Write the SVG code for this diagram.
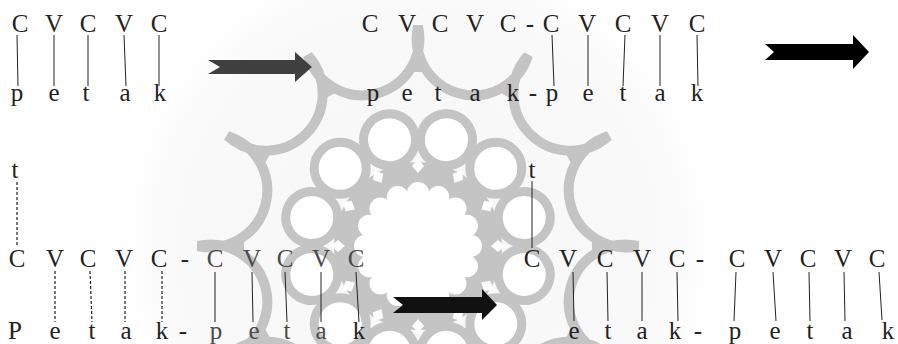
<svg xmlns="http://www.w3.org/2000/svg" xmlns:xlink="http://www.w3.org/1999/xlink" width="898" height="344" viewBox="0 0 898 344">
<style>
text{font-family:"Liberation Serif","Times New Roman",serif;font-size:25px;fill:#222;text-anchor:middle}
text.lt{fill:#4a4a4a}
.ln{stroke:#222;stroke-width:1;fill:none}
.ds{stroke:#222;stroke-width:1.2;fill:none;stroke-dasharray:3 2}
.wm{stroke:#c4c4c4;fill:none}
</style>
<defs>
<radialGradient id="halo" cx="418" cy="246" r="300" gradientUnits="userSpaceOnUse">
<stop offset="0" stop-color="#f7f7f7"/>
<stop offset="0.8" stop-color="#f9f9f9"/>
<stop offset="1" stop-color="#ffffff"/>
</radialGradient>
<polygon id="spike" points="418,26 412,72 424,72" fill="#c4c4c4"/>
<circle id="petal" cx="418" cy="193" r="11" fill="#fff"/>
<polygon id="dia" points="418,159 424,166 418,173 412,166" fill="#fff"/>
<circle id="ring" cx="418" cy="136" r="26" fill="#fff" stroke="#c4c4c4" stroke-width="9"/>
</defs>
<rect width="898" height="344" fill="#fff"/>
<g id="watermark">
<circle cx="418" cy="246" r="300" fill="url(#halo)"/>
<path class="wm" stroke-width="10" d="M638,246 A57,57 0 0 0 608.5,356 A57,57 0 0 0 528,436.5 A57,57 0 0 0 418,466 A57,57 0 0 0 308,436.5 A57,57 0 0 0 227.5,356 A57,57 0 0 0 198,246 A57,57 0 0 0 227.5,136 A57,57 0 0 0 308,55.5 A57,57 0 0 0 418,26 A57,57 0 0 0 528,55.5 A57,57 0 0 0 608.5,136 A57,57 0 0 0 638,246 Z"/>
<use xlink:href="#spike"/>
<use xlink:href="#spike" transform="rotate(30 418 246)"/>
<use xlink:href="#spike" transform="rotate(60 418 246)"/>
<use xlink:href="#spike" transform="rotate(90 418 246)"/>
<use xlink:href="#spike" transform="rotate(120 418 246)"/>
<use xlink:href="#spike" transform="rotate(150 418 246)"/>
<use xlink:href="#spike" transform="rotate(180 418 246)"/>
<use xlink:href="#spike" transform="rotate(210 418 246)"/>
<use xlink:href="#spike" transform="rotate(240 418 246)"/>
<use xlink:href="#spike" transform="rotate(270 418 246)"/>
<use xlink:href="#spike" transform="rotate(300 418 246)"/>
<use xlink:href="#spike" transform="rotate(330 418 246)"/>
<circle cx="418" cy="246" r="84" fill="#c4c4c4"/>
<use xlink:href="#ring" transform="rotate(-15 418 246)"/>
<use xlink:href="#ring" transform="rotate(15 418 246)"/>
<use xlink:href="#ring" transform="rotate(45 418 246)"/>
<use xlink:href="#ring" transform="rotate(75 418 246)"/>
<use xlink:href="#ring" transform="rotate(105 418 246)"/>
<use xlink:href="#ring" transform="rotate(135 418 246)"/>
<use xlink:href="#ring" transform="rotate(165 418 246)"/>
<use xlink:href="#ring" transform="rotate(195 418 246)"/>
<use xlink:href="#ring" transform="rotate(225 418 246)"/>
<use xlink:href="#ring" transform="rotate(255 418 246)"/>
<use xlink:href="#ring" transform="rotate(285 418 246)"/>
<use xlink:href="#ring" transform="rotate(315 418 246)"/>
<use xlink:href="#dia"/>
<use xlink:href="#dia" transform="rotate(30 418 246)"/>
<use xlink:href="#dia" transform="rotate(60 418 246)"/>
<use xlink:href="#dia" transform="rotate(90 418 246)"/>
<use xlink:href="#dia" transform="rotate(120 418 246)"/>
<use xlink:href="#dia" transform="rotate(150 418 246)"/>
<use xlink:href="#dia" transform="rotate(180 418 246)"/>
<use xlink:href="#dia" transform="rotate(210 418 246)"/>
<use xlink:href="#dia" transform="rotate(240 418 246)"/>
<use xlink:href="#dia" transform="rotate(270 418 246)"/>
<use xlink:href="#dia" transform="rotate(300 418 246)"/>
<use xlink:href="#dia" transform="rotate(330 418 246)"/>
<circle cx="418" cy="246" r="53" fill="#fff"/>
<use xlink:href="#petal"/>
<use xlink:href="#petal" transform="rotate(22.5 418 246)"/>
<use xlink:href="#petal" transform="rotate(45 418 246)"/>
<use xlink:href="#petal" transform="rotate(67.5 418 246)"/>
<use xlink:href="#petal" transform="rotate(90 418 246)"/>
<use xlink:href="#petal" transform="rotate(112.5 418 246)"/>
<use xlink:href="#petal" transform="rotate(135 418 246)"/>
<use xlink:href="#petal" transform="rotate(157.5 418 246)"/>
<use xlink:href="#petal" transform="rotate(180 418 246)"/>
<use xlink:href="#petal" transform="rotate(202.5 418 246)"/>
<use xlink:href="#petal" transform="rotate(225 418 246)"/>
<use xlink:href="#petal" transform="rotate(247.5 418 246)"/>
<use xlink:href="#petal" transform="rotate(270 418 246)"/>
<use xlink:href="#petal" transform="rotate(292.5 418 246)"/>
<use xlink:href="#petal" transform="rotate(315 418 246)"/>
<use xlink:href="#petal" transform="rotate(337.5 418 246)"/>
</g>
<g id="connectors">
<line class="ln" x1="17" y1="35" x2="18" y2="86"/>
<line class="ln" x1="54" y1="35" x2="54" y2="86"/>
<line class="ln" x1="88" y1="35" x2="88" y2="86"/>
<line class="ln" x1="124" y1="35" x2="126" y2="86"/>
<line class="ln" x1="159" y1="35" x2="159" y2="86"/>
<line class="ln" x1="552" y1="35" x2="554" y2="86"/>
<line class="ln" x1="588" y1="35" x2="588" y2="86"/>
<line class="ln" x1="625" y1="35" x2="623" y2="86"/>
<line class="ln" x1="660" y1="35" x2="660" y2="86"/>
<line class="ln" x1="697" y1="35" x2="698" y2="86"/>
<line class="ds" x1="17" y1="182" x2="17" y2="247"/>
<line class="ds" x1="55" y1="271" x2="55" y2="322"/>
<line class="ds" x1="90" y1="271" x2="92" y2="322"/>
<line class="ds" x1="125" y1="271" x2="125" y2="322"/>
<line class="ds" x1="162" y1="271" x2="162" y2="322"/>
<line class="ln" x1="215" y1="272" x2="215" y2="322"/>
<line class="ln" x1="252" y1="272" x2="253" y2="322"/>
<line class="ln" x1="285" y1="272" x2="287" y2="322"/>
<line class="ln" x1="321" y1="272" x2="321" y2="322"/>
<line class="ln" x1="356" y1="272" x2="359" y2="322"/>
<line class="ln" x1="532" y1="181" x2="532" y2="248"/>
<line class="ln" x1="573" y1="272" x2="574" y2="321"/>
<line class="ln" x1="607" y1="272" x2="608" y2="321"/>
<line class="ln" x1="642" y1="272" x2="642" y2="321"/>
<line class="ln" x1="677" y1="272" x2="678" y2="321"/>
<line class="ln" x1="736" y1="272" x2="734" y2="321"/>
<line class="ln" x1="773" y1="272" x2="776" y2="321"/>
<line class="ln" x1="809" y1="272" x2="810" y2="321"/>
<line class="ln" x1="844" y1="272" x2="845" y2="321"/>
<line class="ln" x1="879" y1="272" x2="882" y2="320"/>
</g>
<g id="arrow1"><polygon points="208,60 295,60 295,52 312,67 295,82 295,74 208,74 220,67" fill="#404040"/></g>
<g id="arrow2"><polygon points="765,44 853,44 853,35 869,52 853,69 853,60 765,60 774,52" fill="#000"/></g>
<g id="arrow3"><polygon points="393,297 482,297 482,289 497,305 482,320 482,313 393,313 403,305" fill="#111"/></g>
<g id="tl-top"><text x="20" y="32">C</text><text x="54" y="32">V</text><text x="88" y="32">C</text><text x="124" y="32">V</text><text x="159" y="32">C</text></g>
<g id="tl-bottom"><text x="17" y="101">p</text><text x="54" y="101">e</text><text x="86" y="101">t</text><text x="125" y="101">a</text><text x="160" y="101">k</text></g>
<g id="tm-top"><text x="370" y="32">C</text><text x="407" y="32">V</text><text x="440" y="32">C</text><text x="475" y="32">V</text><text x="508" y="32">C</text><text x="530" y="32">-</text><text x="551" y="32">C</text><text x="587" y="32">V</text><text x="623" y="32">C</text><text x="660" y="32">V</text><text x="697" y="32">C</text></g>
<g id="tm-bottom"><text x="373" y="101">p</text><text x="407" y="101">e</text><text x="438" y="101">t</text><text x="475" y="101">a</text><text x="513" y="101">k</text><text x="533" y="101">-</text><text x="552" y="101">p</text><text x="588" y="101">e</text><text x="623" y="101">t</text><text x="660" y="101">a</text><text x="697" y="101">k</text></g>
<g id="bl-t"><text x="15" y="178">t</text></g>
<g id="bl-top"><text x="17" y="267">C</text><text x="55" y="267">V</text><text x="88" y="267">C</text><text x="124" y="267">V</text><text x="159" y="267">C</text><text x="185" y="267">-</text><text class="lt" x="215" y="267">C</text><text class="lt" x="252" y="267">V</text><text class="lt" x="285" y="267">C</text><text class="lt" x="321" y="267">V</text><text class="lt" x="356" y="267">C</text></g>
<g id="bl-bottom"><text x="15" y="339">P</text><text x="55" y="339">e</text><text x="92" y="339">t</text><text x="126" y="339">a</text><text x="162" y="339">k</text><text x="183" y="339">-</text><text class="lt" x="216" y="339">p</text><text class="lt" x="254" y="339">e</text><text class="lt" x="287" y="339">t</text><text class="lt" x="321" y="339">a</text><text x="359" y="339">k</text></g>
<g id="br-t"><text x="532" y="178">t</text></g>
<g id="br-top"><text x="532" y="267">C</text><text x="568" y="267">V</text><text x="605" y="267">C</text><text x="642" y="267">V</text><text x="677" y="267">C</text><text x="700" y="267">-</text><text x="737" y="267">C</text><text x="773" y="267">V</text><text x="808" y="267">C</text><text x="843" y="267">V</text><text x="877" y="267">C</text></g>
<g id="br-bottom"><text x="574" y="339">e</text><text x="608" y="339">t</text><text x="642" y="339">a</text><text x="675" y="339">k</text><text x="698" y="339">-</text><text x="735" y="339">p</text><text x="775" y="339">e</text><text x="810" y="339">t</text><text x="847" y="339">a</text><text x="888" y="339">k</text></g>
</svg>
